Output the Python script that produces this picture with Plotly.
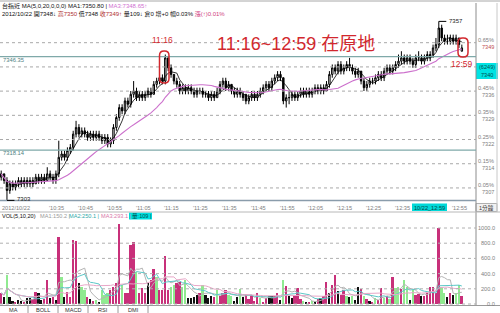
import plotly.graph_objects as go
import pandas as pd

# ---------------- data (1-minute bars, 台指近 2012/10/22, 10:19 .. 12:59) ----------------
start_minute = "10:19"
opens = [7310, 7311, 7309, 7306, 7308, 7307, 7308, 7309, 7308, 7309,
         7308, 7309, 7308, 7310, 7309, 7310, 7309, 7311, 7310, 7309,
         7311, 7316, 7317, 7316, 7318, 7319, 7323, 7325, 7323, 7324,
         7323, 7322, 7323, 7322, 7323, 7322, 7321, 7322, 7320, 7321,
         7325, 7328, 7331, 7330, 7333, 7332, 7335, 7336, 7334, 7335,
         7334, 7335, 7336, 7335, 7338, 7339, 7340, 7339, 7346, 7343,
         7341, 7339, 7338, 7336, 7337, 7336, 7337, 7336, 7335, 7336,
         7336, 7335, 7335, 7334, 7335, 7334, 7336, 7338, 7339, 7337,
         7338, 7336, 7335, 7336, 7335, 7335, 7333, 7334, 7335, 7334,
         7335, 7336, 7337, 7338, 7337, 7339, 7340, 7341, 7340, 7333,
         7334, 7334, 7335, 7334, 7335, 7336, 7335, 7336, 7335, 7336,
         7337, 7336, 7337, 7336, 7338, 7341, 7343, 7342, 7344, 7342,
         7343, 7344, 7343, 7342, 7341, 7342, 7339, 7337, 7338, 7339,
         7339, 7340, 7341, 7340, 7342, 7343, 7342, 7343, 7344, 7345,
         7346, 7345, 7346, 7345, 7344, 7346, 7346, 7345, 7346, 7347,
         7347, 7349, 7350, 7355, 7352, 7351, 7351, 7352, 7351, 7352, 7348]
highs = [7312, 7311, 7310, 7309, 7309, 7309, 7310, 7310, 7310, 7310,
         7310, 7310, 7311, 7311, 7311, 7311, 7313, 7312, 7311, 7312,
         7321, 7318, 7318, 7319, 7320, 7324, 7327, 7326, 7325, 7325,
         7324, 7324, 7324, 7324, 7324, 7323, 7323, 7323, 7322, 7326,
         7329, 7332, 7332, 7334, 7334, 7336, 7339, 7337, 7336, 7336,
         7336, 7337, 7337, 7339, 7340, 7341, 7341, 7347, 7346, 7344,
         7341, 7340, 7339, 7338, 7338, 7338, 7338, 7337, 7337, 7337,
         7337, 7336, 7336, 7336, 7336, 7337, 7339, 7340, 7340, 7339,
         7338, 7337, 7337, 7337, 7336, 7335, 7335, 7336, 7336, 7336,
         7337, 7338, 7339, 7339, 7340, 7341, 7342, 7342, 7340, 7335,
         7336, 7336, 7336, 7336, 7337, 7337, 7337, 7337, 7337, 7338,
         7338, 7338, 7338, 7339, 7342, 7344, 7344, 7345, 7345, 7344,
         7345, 7346, 7344, 7343, 7343, 7342, 7340, 7339, 7340, 7340,
         7341, 7342, 7342, 7343, 7344, 7344, 7344, 7345, 7347, 7348,
         7347, 7347, 7347, 7346, 7347, 7348, 7347, 7347, 7348, 7348,
         7350, 7352, 7357, 7356, 7353, 7353, 7353, 7353, 7353, 7352, 7350]
lows = [7309, 7308, 7303, 7305, 7306, 7306, 7307, 7307, 7307, 7307,
        7307, 7307, 7308, 7308, 7308, 7308, 7309, 7309, 7308, 7308,
        7310, 7315, 7315, 7315, 7317, 7318, 7322, 7322, 7322, 7322,
        7321, 7321, 7321, 7321, 7321, 7320, 7320, 7319, 7319, 7320,
        7324, 7327, 7329, 7329, 7331, 7331, 7334, 7333, 7333, 7333,
        7333, 7334, 7334, 7335, 7337, 7338, 7338, 7338, 7342, 7340,
        7338, 7337, 7335, 7335, 7335, 7335, 7335, 7334, 7334, 7335,
        7334, 7334, 7333, 7333, 7333, 7334, 7335, 7337, 7336, 7336,
        7335, 7334, 7334, 7334, 7333, 7332, 7332, 7333, 7333, 7333,
        7334, 7335, 7336, 7336, 7336, 7338, 7339, 7339, 7332, 7331,
        7332, 7333, 7333, 7333, 7334, 7334, 7334, 7334, 7334, 7335,
        7335, 7335, 7335, 7336, 7337, 7340, 7341, 7341, 7341, 7341,
        7342, 7342, 7341, 7340, 7340, 7338, 7336, 7336, 7337, 7338,
        7338, 7339, 7339, 7339, 7341, 7341, 7341, 7342, 7343, 7344,
        7344, 7344, 7344, 7343, 7343, 7345, 7344, 7344, 7345, 7345,
        7346, 7348, 7349, 7351, 7350, 7350, 7350, 7350, 7350, 7349, 7348]
closes = [7311, 7309, 7306, 7308, 7307, 7308, 7309, 7308, 7309, 7308,
          7309, 7308, 7310, 7309, 7310, 7309, 7311, 7310, 7309, 7311,
          7316, 7317, 7316, 7318, 7319, 7323, 7325, 7323, 7324, 7323,
          7322, 7323, 7322, 7323, 7322, 7321, 7322, 7320, 7321, 7325,
          7328, 7331, 7330, 7333, 7332, 7335, 7336, 7334, 7335, 7334,
          7335, 7336, 7335, 7338, 7339, 7340, 7339, 7346, 7343, 7341,
          7339, 7338, 7336, 7337, 7336, 7337, 7336, 7335, 7336, 7336,
          7335, 7335, 7334, 7335, 7334, 7336, 7338, 7339, 7337, 7338,
          7336, 7335, 7336, 7335, 7334, 7333, 7334, 7335, 7334, 7335,
          7336, 7337, 7338, 7337, 7339, 7340, 7341, 7340, 7333, 7334,
          7334, 7335, 7334, 7335, 7336, 7335, 7336, 7335, 7336, 7337,
          7336, 7337, 7336, 7338, 7341, 7343, 7342, 7344, 7342, 7343,
          7344, 7343, 7342, 7341, 7342, 7339, 7337, 7338, 7339, 7339,
          7340, 7341, 7340, 7342, 7343, 7342, 7343, 7344, 7345, 7346,
          7345, 7346, 7345, 7344, 7346, 7346, 7345, 7346, 7347, 7346,
          7349, 7350, 7355, 7352, 7351, 7351, 7352, 7351, 7352, 7350, 7349]
volumes = [145, 90, 380, 90, 40, 30, 50, 40, 30, 80,
           80, 70, 160, 150, 50, 60, 315, 80, 90, 50,
           880, 355, 90, 160, 90, 840, 830, 275, 225, 190,
           90, 60, 40, 50, 30, 190, 120, 140, 185, 225,
           270, 1050, 250, 140, 140, 775, 815, 420, 140, 210,
           140, 270, 315, 460, 355, 180, 180, 630, 180, 225,
           250, 270, 290, 225, 315, 80, 80, 90, 120, 150,
           250, 120, 80, 110, 90, 180, 110, 140, 190, 120,
           110, 40, 90, 200, 90, 130, 60, 120, 40, 150,
           80, 30, 80, 100, 110, 100, 150, 50, 315, 235,
           110, 80, 110, 210, 60, 40, 30, 30, 40, 20,
           60, 80, 100, 290, 145, 250, 380, 170, 120, 180,
           110, 90, 110, 50, 220, 200, 100, 60, 40, 30,
           80, 50, 210, 80, 110, 60, 355, 210, 230, 200,
           315, 230, 50, 190, 120, 130, 110, 110, 150, 220,
           220, 150, 1000, 220, 140, 90, 140, 120, 150, 250, 109]
# tick direction of each bar: 1 up, -1 down, 0 unchanged
vol_dir = [1, 0, -1, 0, 0, 1, 0, 0, 1, 0,
           0, 1, 1, 0, 0, 1, 1, 0, 1, 0,
           1, -1, 0, 1, 1, 1, 1, 0, -1, -1,
           1, 0, 1, -1, 0, -1, -1, -1, 1, 1,
           1, 1, -1, 1, 1, 1, 1, -1, 1, 1,
           1, 0, 1, 1, -1, 1, 1, 1, 1, -1,
           -1, 1, 1, -1, -1, 0, 0, 0, 0, 1,
           -1, 0, 0, 0, 1, -1, 1, 1, 1, -1,
           -1, 0, 0, -1, 0, 1, 1, 1, 1, 1,
           -1, 1, 1, 0, 0, 1, 1, 0, -1, 1,
           0, 0, 1, 1, 1, -1, 0, 1, -1, 0,
           1, 0, 1, 1, 0, 1, 1, 0, 1, 1,
           -1, 0, -1, 0, 0, 1, -1, 1, 0, 1,
           -1, 1, 1, -1, 1, -1, 1, -1, -1, 1,
           -1, -1, 0, -1, 1, 1, 0, 1, 1, 1,
           1, 1, 1, -1, -1, 0, 1, 0, -1, -1, 1]

time_ticks = ["10:35", "10:45", "10:55", "11:05", "11:15", "11:25", "11:35",
              "11:45", "11:55", "12:05", "12:15", "12:25", "12:35", "12:55"]
prev_close = 7303.1
grid_pcts = [0.65, 0.55, 0.45, 0.35, 0.25, 0.15, 0.05]
right_pct_labels = ["0.65%", None, "0.45%", "0.35%", "0.25%", "0.15%", "0.05%"]
right_price_labels = ["7349", None, "7336", "7329", "7322", "7314", "7307"]
level_lines = [7346.35, 7318.14]
vol_ticks = [0, 200, 400, 600, 800, 1000]
vol_tick_labels = ["0.0", "200.0", "400.0", "600.0", "800.0", "1000.0"]
vol_header = ["VOL(5,10,20)", "MA1:150.2 |", "MA2:250.1 |", "MA3:293.1 |", "量:109 |"]
tab_labels = ["MA", "BOLL", "MACD", "RSI", "DMI"]

# ---------------- derived ----------------
n = len(closes)
idx = list(range(n))
cs = pd.Series(closes, dtype=float)
ma5 = cs.rolling(5, min_periods=1).mean()
ma20 = cs.rolling(20, min_periods=1).mean()
vs = pd.Series(volumes, dtype=float)
vma5 = vs.rolling(5, min_periods=1).mean()
vma10 = vs.rolling(10, min_periods=1).mean()
vma20 = vs.rolling(20, min_periods=1).mean()

def minute_index(t):
    h, m = map(int, t.split(":"))
    h0, m0 = map(int, start_minute.split(":"))
    return (h * 60 + m) - (h0 * 60 + m0)

# ---------------- pixel calibration ----------------
W, H = 500, 313
X0, DX = 1.2, 2.879          # pixel of first bar, pixels per minute
P_TOP, P_BOT = 7363.45, 7269.03
V_TOP, V_BOT = 4000.0, -118.4

def px(x):
    return x / W

def py(y):
    return 1 - y / H

RED = "#d2282e"
PINK = "#c8307a"
GREEN = "#90ea90"
FONT = "Liberation Sans, Noto Sans CJK TC"
GRAY = "#808080"

col_map = {1: PINK, -1: GREEN, 0: "#111111"}
vol_colors = [col_map[d] for d in vol_dir]

fig = go.Figure()
fig.add_trace(go.Bar(x=idx, y=volumes, marker=dict(color=vol_colors, line=dict(width=0)),
                     width=0.62, yaxis="y2"))
fig.add_trace(go.Scatter(x=idx, y=vma5, mode="lines", line=dict(color="#b4b4b4", width=1), yaxis="y2"))
fig.add_trace(go.Scatter(x=idx, y=vma10, mode="lines", line=dict(color="#5cc8c8", width=1), yaxis="y2"))
fig.add_trace(go.Scatter(x=idx, y=vma20, mode="lines", line=dict(color="#e8a8c8", width=1), yaxis="y2"))
fig.add_trace(go.Candlestick(x=idx, open=opens, high=highs, low=lows, close=closes,
                             increasing=dict(line=dict(color="#000000", width=1), fillcolor="#ffffff"),
                             decreasing=dict(line=dict(color="#000000", width=1), fillcolor="#000000"),
                             whiskerwidth=0))
fig.add_trace(go.Scatter(x=idx, y=ma5, mode="lines", line=dict(color="#000000", width=0.8)))
fig.add_trace(go.Scatter(x=idx, y=ma20, mode="lines", line=dict(color="#cc70cc", width=1.1)))

shapes = []
def hline(y0, x0, x1, color, width=1, dash=None, yref="paper", xref="paper"):
    d = dict(type="line", xref=xref, yref=yref, x0=x0, x1=x1, y0=y0, y1=y0,
             line=dict(color=color, width=width))
    if dash:
        d["line"]["dash"] = dash
    shapes.append(d)

def vline(x0, y0, y1, color, width=1):
    shapes.append(dict(type="line", xref="paper", yref="paper", x0=x0, x1=x0, y0=y0, y1=y1,
                       line=dict(color=color, width=width)))

def rect(x0, y0, x1, y1, fill, line=None):
    shapes.append(dict(type="rect", xref="paper", yref="paper", x0=px(x0), x1=px(x1),
                       y0=py(y0), y1=py(y1), fillcolor=fill,
                       line=dict(width=0 if line is None else 1, color=line or fill), layer="below"))

def rrect(x0, y0, x1, y1, r, color):
    pts = lambda x, y: f"{px(x):.5f},{py(y):.5f}"
    path = (f"M{pts(x0 + r, y0)} L{pts(x1 - r, y0)} Q{pts(x1, y0)} {pts(x1, y0 + r)} "
            f"L{pts(x1, y1 - r)} Q{pts(x1, y1)} {pts(x1 - r, y1)} L{pts(x0 + r, y1)} "
            f"Q{pts(x0, y1)} {pts(x0, y1 - r)} L{pts(x0, y0 + r)} Q{pts(x0, y0)} {pts(x0 + r, y0)} Z")
    shapes.append(dict(type="path", xref="paper", yref="paper", path=path,
                       line=dict(color=color, width=1.5)))

# frame
hline(py(1), 0, 1, "#a8a8a8", 1)
vline(px(476), py(3), py(305), "#8c8c8c", 1)
vline(px(497), py(3), py(212), "#c8c8c8", 1)
# price gridlines
grid_prices = [prev_close * (1 + p / 100) for p in grid_pcts]
for gp in grid_prices:
    hline(gp, 0, px(476), "#a8a8a8", 1, "dot", yref="y")
for lv in level_lines:
    hline(lv, 0, px(476), "#7fa9a9", 1.2, yref="y")
# time axis row
hline(py(200.5), 0, px(476), "#8a9cab", 1.6)
hline(py(212), 0, 1, "#b8b8b8", 1)
# volume gridlines
for vt in vol_ticks:
    hline(vt, 0, px(476), "#b0b0b0", 1, "dot", yref="y2")
# bottom tabs
hline(py(305.5), 0, 1, "#9a9a9a", 1)
for sx in [28, 58, 88, 118, 148]:
    vline(px(sx), py(305.5), py(313), "#9a9a9a", 1)
# cyan boxes
rect(476, 63, 498, 79, "#00e3e3")
rect(412, 203.5, 447, 211, "#00d8d8")
rect(129, 212.5, 152, 219.5, "#00e0e0")
rect(476, 203.5, 497, 211.5, "#f2f2f2", "#b0b0b0")
# red marks
rrect(159.5, 51, 169, 83, 4.5, RED)
rrect(458, 38, 468, 57, 4.5, RED)
# high / low markers
i_hi = highs.index(max(highs))
i_lo = lows.index(min(lows))
shapes.append(dict(type="line", xref="x", yref="y", x0=i_hi, x1=i_hi + 2.6,
                   y0=max(highs), y1=max(highs), line=dict(color="#000", width=1)))
shapes.append(dict(type="line", xref="x", yref="y", x0=i_lo, x1=i_lo + 2.6,
                   y0=min(lows), y1=min(lows), line=dict(color="#000", width=1)))

ann = []
def text(x, y, s, size=6, color="#222", xanchor="left", yanchor="middle", xref="paper", yref="paper",
         yshift=0, family=FONT):
    ann.append(dict(x=x, y=y, xref=xref, yref=yref, text=s, showarrow=False, xanchor=xanchor,
                    yanchor=yanchor, yshift=yshift, font=dict(size=size, color=color, family=family)))

# header
text(px(0), py(6), '台指近 MA(5,0,20,0,0,0) MA1:%.2f | <span style="color:#d070d0">MA3:%.2f↑</span>'
     % (ma5.iloc[-1], ma20.iloc[-1]), size=6, color="#111")
text(px(0), py(14), ('2012/10/22 開%d↓ <span style="color:#b03030">高%d</span> 低%d '
     '<span style="color:#b03030">收%d↑</span> 量%d↓ 倉0 增+0 幅0.03%% '
     '<span style="color:#d04080">漲(↑)0.01%%</span>')
     % (opens[-1], highs[-1], lows[-1], closes[-1], volumes[-1]), size=6, color="#111")
# right price axis labels
for gp, pl, pr in zip(grid_prices, right_pct_labels, right_price_labels):
    if pl is None:
        continue
    text(px(496), gp, pl, size=5.6, color=GRAY, xanchor="right", yref="y", yshift=3)
    text(px(496), gp, pr, size=5.6, color="#c05050" if pr == "7349" else GRAY,
         xanchor="right", yref="y", yshift=-4)
text(px(487), py(67.5), "(6249)", size=5.6, color="#005050", xanchor="center")
text(px(487), py(74.5), "7340", size=5.6, color="#005050", xanchor="center")
# level labels
text(px(0.5), level_lines[0], "%.2f" % level_lines[0], size=5.8, color="#4f7f7f", yref="y", yshift=-3)
text(px(0.5), level_lines[1], "%.2f" % level_lines[1], size=5.8, color="#4f7f7f", yref="y", yshift=-3)
text(i_hi + 2.8, max(highs), str(max(highs)), size=6, color="#222", xref="x", yref="y")
text(i_lo + 2.8, min(lows), str(min(lows)), size=6, color="#222", xref="x", yref="y", yshift=1)
# time axis labels
text(px(0), py(207.5), "2012/10/22", size=5.6, color=GRAY)
for t in time_ticks:
    text(minute_index(t), py(207.5), "'" + t, size=5.6, color=GRAY, xref="x")
text(px(429.5), py(207.5), "10/22_12:59", size=5.6, color="#004848", xanchor="center")
text(px(486.5), py(207.5), "1分鐘", size=5.6, color="#404040", xanchor="center")
# volume header & axis
vh_x = [0, 38, 67, 99, 130]
vh_c = ["#111", "#9a9a9a", "#30a8a8", "#d878a8", "#005050"]
for s, xx, cc in zip(vol_header, vh_x, vh_c):
    text(px(xx), py(216), s, size=5.6, color=cc)
for vt, vl in zip(vol_ticks, vol_tick_labels):
    text(px(497), vt, vl, size=5.6, color=GRAY, xanchor="right", yref="y2")
# tabs
for k, lab in enumerate(tab_labels):
    text(px(13 + 30 * k), py(309.5), lab, size=5.6, color="#333", xanchor="center")
# red annotations
text(px(162), py(40), "11:16", size=8.5, color=RED, xanchor="center")
text(px(461.5), py(63.5), "12:59", size=8.5, color=RED, xanchor="center")
text(px(215), py(44), "11:16~12:59 在原地", size=18, color=RED)

fig.update_layout(
    width=W, height=H, margin=dict(l=0, r=0, t=0, b=0),
    paper_bgcolor="white", plot_bgcolor="white", showlegend=False,
    xaxis=dict(range=[-X0 / DX, (W - X0) / DX], visible=False, rangeslider=dict(visible=False),
               fixedrange=True),
    yaxis=dict(range=[P_BOT, P_TOP], visible=False, fixedrange=True),
    yaxis2=dict(range=[V_BOT, V_TOP], overlaying="y", visible=False, fixedrange=True),
    shapes=shapes, annotations=ann, bargap=0,
)
fig.write_html("out.html", config={"displayModeBar": False})
